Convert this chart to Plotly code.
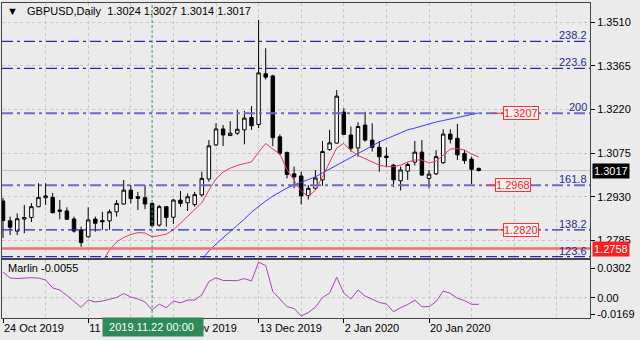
import pandas as pd
import plotly.graph_objects as go

# ---------------- data ----------------
days = pd.bdate_range("2019-10-24", "2020-01-29")
days = [d for d in days if d.strftime("%m-%d") not in ("12-25", "01-01")]
dates = [d.strftime("%Y-%m-%d") for d in days]
bar = list(range(len(dates)))

open_ = [1.2916, 1.2850, 1.2816, 1.2856, 1.2861, 1.2897, 1.2927, 1.2928, 1.2886, 1.2883,
         1.2856, 1.2820, 1.2797, 1.2856, 1.2851, 1.2850, 1.2880, 1.2906, 1.2952, 1.2930,
         1.2927, 1.2908, 1.2836, 1.2897, 1.2862, 1.2919, 1.2910, 1.2904, 1.2936, 1.2989,
         1.3102, 1.3155, 1.3133, 1.3141, 1.3152, 1.3193, 1.3170, 1.3338, 1.3331, 1.3129,
         1.3077, 1.3006, 1.2999, 1.2934, 1.2958, 1.2986, 1.3087, 1.3108, 1.3211, 1.3135,
         1.3092, 1.3168, 1.3118, 1.3094, 1.3065, 1.3035, 1.2983, 1.3015, 1.3045, 1.3078,
         1.2991, 1.3006, 1.3043, 1.3138, 1.3124, 1.3074, 1.3055, 1.3024]
high = [1.2926, 1.2864, 1.2875, 1.2903, 1.2909, 1.2975, 1.2975, 1.2943, 1.2919, 1.2895,
        1.2864, 1.2831, 1.2895, 1.2864, 1.2880, 1.2888, 1.2919, 1.2986, 1.2969, 1.2946,
        1.2969, 1.2910, 1.2903, 1.2899, 1.2922, 1.2949, 1.2941, 1.2946, 1.3013, 1.3118,
        1.3174, 1.3168, 1.3181, 1.3218, 1.3215, 1.3231, 1.3517, 1.3423, 1.3335, 1.3137,
        1.3080, 1.3030, 1.3013, 1.2969, 1.3019, 1.3115, 1.3152, 1.3284, 1.3224, 1.3163,
        1.3177, 1.3212, 1.3174, 1.3115, 1.3094, 1.3039, 1.3030, 1.3044, 1.3115, 1.3118,
        1.3019, 1.3085, 1.3154, 1.3154, 1.3172, 1.3085, 1.3063, 1.3027]
low = [1.2793, 1.2803, 1.2803, 1.2809, 1.2846, 1.2895, 1.2903, 1.2875, 1.2855, 1.2853,
       1.2811, 1.2764, 1.2795, 1.2814, 1.2820, 1.2820, 1.2864, 1.2904, 1.2908, 1.2886,
       1.2889, 1.2831, 1.2831, 1.2831, 1.2840, 1.2897, 1.2883, 1.2897, 1.2931, 1.2980,
       1.3098, 1.3098, 1.3132, 1.3135, 1.3104, 1.3152, 1.3158, 1.3319, 1.3098, 1.3069,
       1.2991, 1.2958, 1.2904, 1.2921, 1.2952, 1.2966, 1.3082, 1.3107, 1.3135, 1.3080,
       1.3063, 1.3113, 1.3080, 1.3013, 1.3030, 1.2962, 1.2951, 1.2986, 1.3034, 1.2999,
       1.2958, 1.3002, 1.3039, 1.3107, 1.3052, 1.3039, 1.2972, 1.3014]
close = [1.2851, 1.2829, 1.2857, 1.2861, 1.2897, 1.2928, 1.2933, 1.2877, 1.2882, 1.2855,
         1.2816, 1.2778, 1.2853, 1.2842, 1.2847, 1.2880, 1.2908, 1.2952, 1.2924, 1.2925,
         1.2906, 1.2834, 1.2897, 1.2861, 1.2919, 1.2908, 1.2930, 1.2937, 1.2991, 1.3099,
         1.3155, 1.3135, 1.3141, 1.3154, 1.3191, 1.3166, 1.3341, 1.3327, 1.3126, 1.3074,
         1.3004, 1.2996, 1.2933, 1.2958, 1.2992, 1.3080, 1.3109, 1.3264, 1.3137, 1.3091,
         1.3163, 1.3118, 1.3094, 1.3063, 1.3060, 1.2986, 1.3019, 1.3037, 1.3078, 1.3002,
         1.3005, 1.3063, 1.3138, 1.3121, 1.3069, 1.3050, 1.3021, 1.3017]

# fast (red) moving average, first 14 bars empty
ma_fast = [None] * 14 + [
    1.2715, 1.2753, 1.2780, 1.2795, 1.2805, 1.2811, 1.2810, 1.2797, 1.2801, 1.2806,
    1.2820, 1.2843, 1.2864, 1.2886, 1.2910, 1.2952, 1.2989, 1.3012, 1.3025, 1.3034,
    1.3039, 1.3046, 1.3078, 1.3107, 1.3088, 1.3072, 1.3019, 1.2982, 1.2949, 1.2931,
    1.2952, 1.2996, 1.3045, 1.3092, 1.3107, 1.3083, 1.3067, 1.3057, 1.3045, 1.3035,
    1.3030, 1.3030, 1.3035, 1.3045, 1.3052, 1.3052, 1.3042, 1.3048, 1.3068, 1.3088,
    1.3090, 1.3085, 1.3072, 1.3062]
# slow (blue) moving average, first 28 bars empty
ma_slow = [None] * 28 + [
    1.2722, 1.2750, 1.2773, 1.2793, 1.2815, 1.2836, 1.2856, 1.2879, 1.2899, 1.2916,
    1.2932, 1.2946, 1.2959, 1.2969, 1.2979, 1.2987, 1.2996, 1.3009, 1.3022, 1.3035,
    1.3049, 1.3062, 1.3075, 1.3088, 1.3100, 1.3112, 1.3122, 1.3132, 1.3142, 1.3152,
    1.3158, 1.3165, 1.3171, 1.3178, 1.3183, 1.3188, 1.3193, 1.3198, 1.3205, 1.3208]

marlin = [0.0264, 0.0202, 0.0197, 0.0202, 0.0205, 0.0202, 0.0182, 0.0100, 0.0079, 0.0023,
          -0.0034, -0.0099, -0.0024, -0.0044, -0.0034, -0.0013, 0.0002, 0.0043, 0.0007, -0.0013,
          -0.0044, -0.0126, -0.0065, -0.0103, -0.0034, -0.0054, -0.0024, -0.0024, 0.0028, 0.0166,
          0.0205, 0.0177, 0.0175, 0.0175, 0.0197, 0.0172, 0.0364, 0.0331, 0.0064, -0.0013,
          -0.0092, -0.0111, -0.0188, -0.0152, -0.0096, 0.0002, 0.0048, 0.0210, 0.0048, -0.0013,
          0.0079, 0.0017, -0.0013, -0.0049, -0.0065, -0.0144, -0.0103, -0.0070, -0.0024, -0.0092,
          -0.0092, -0.0041, 0.0069, 0.0045, -0.0006, -0.0029, -0.0068, -0.0068]

fib_names = ["238.2", "223.6", "200", "161.8", "138.2", "123.6"]
fib_levels = [1.3446, 1.3356, 1.3207, 1.2968, 1.2820, 1.2731]
fib_strong = [False, False, True, True, False, False]
target_levels = [1.3207, 1.2968, 1.2820]
support_level = 1.2758
last_price = close[-1]
marlin_last = -0.0055

price_ticks = [1.3510, 1.3365, 1.3220, 1.3075, 1.2930, 1.2785]
marlin_ticks = [0.0302, 0.0, -0.0169]
marlin_ticktext = ["0.0302", "0.00", "-0.0169"]
label_every = 12
grid_every = 6
marked_bar = 21  # 2019.11.22

# ---------------- layout helpers ----------------
W, H = 640, 340
L, R, T, B = 2, 590, 3, 318          # plot box in pixels
MAIN_BOTTOM, SUB_TOP = 258, 260
BG = "#ebebeb"
FONT = "Liberation Sans"
NB = "\u00a0"


def px_x(p):
    return (p - L) / (R - L)


def px_y(p):
    return (B - p) / (B - T)


x_per_px = 7.1
x_lo = -(3 - L) / x_per_px
x_hi = x_lo + (R - L) / x_per_px

fig = go.Figure()

fig.add_trace(go.Candlestick(
    x=bar, open=open_, high=high, low=low, close=close,
    increasing=dict(line=dict(color="#000000", width=1), fillcolor="#ffffff"),
    decreasing=dict(line=dict(color="#000000", width=1), fillcolor="#000000"),
    whiskerwidth=0, xaxis="x", yaxis="y", hoverinfo="skip"))
fig.add_trace(go.Scatter(x=bar, y=ma_slow, mode="lines",
                         line=dict(color="#3a3aff", width=1), xaxis="x", yaxis="y"))
fig.add_trace(go.Scatter(x=bar, y=ma_fast, mode="lines",
                         line=dict(color="#e8385a", width=1), xaxis="x", yaxis="y"))
fig.add_trace(go.Scatter(x=bar, y=marlin, mode="lines",
                         line=dict(color="#b03cc0", width=1), xaxis="x2", yaxis="y2"))

shapes = []
shapes.append(dict(type="line", xref="paper", yref="y", x0=0, x1=1, y0=last_price, y1=last_price,
                   line=dict(color="#c4c4c4", width=1), layer="below"))
shapes.append(dict(type="line", xref="paper", yref="y", x0=0, x1=1, y0=support_level, y1=support_level,
                   line=dict(color="#f07070", width=2.5)))
for lev, strong in zip(fib_levels, fib_strong):
    shapes.append(dict(type="line", xref="paper", yref="y", x0=0, x1=1, y0=lev, y1=lev,
                       line=dict(color="#6c6cc6" if strong else "#2a2aa8",
                                 width=2 if strong else 1.2,
                                 dash="11px,4px,3px,4px")))
shapes.append(dict(type="line", xref="paper", yref="y2", x0=0, x1=1, y0=0, y1=0,
                   line=dict(color="#c4c4c4", width=1, dash="3px,3px"), layer="below"))
shapes.append(dict(type="line", xref="x", yref="paper", x0=marked_bar, x1=marked_bar, y0=0, y1=1,
                   line=dict(color="#3a9a5a", width=1, dash="3px,2px")))
lead = [(69.0, 70.4), (68.0, 69.4), (69.0, 70.4)]
for lev, (a, b) in zip(target_levels, lead):
    shapes.append(dict(type="line", xref="x", yref="y", x0=a, x1=b, y0=lev, y1=lev,
                       line=dict(color="#ff3030", width=1)))

ann = []
header = ("▼" + NB * 3 + "GBPUSD,Daily" + NB * 2 +
          NB.join(f"{v:.4f}" for v in (open_[-1], high[-1], low[-1], close[-1])))
ann.append(dict(text=header, xref="paper", yref="paper", x=px_x(5), y=px_y(11),
                xanchor="left", yanchor="middle", showarrow=False,
                font=dict(family=FONT, size=11, color="#000")))
ann.append(dict(text=f"Marlin {marlin_last:.4f}", xref="paper", yref="paper", x=px_x(6), y=px_y(268),
                xanchor="left", yanchor="middle", showarrow=False,
                font=dict(family=FONT, size=11, color="#000")))
for name, lev in zip(fib_names, fib_levels):
    ann.append(dict(text=name, xref="paper", yref="y", x=px_x(589), y=lev, xanchor="right",
                    yanchor="middle", yshift=6, showarrow=False,
                    font=dict(family=FONT, size=11, color="#2a2a90")))
tx = [72.9, 71.9, 72.9]
for lev, xx in zip(target_levels, tx):
    ann.append(dict(text=f"{lev:.4f}", xref="x", yref="y", x=xx, y=lev, xanchor="center",
                    yanchor="middle", showarrow=False, bgcolor="#f2f2f2", bordercolor="#ff3030",
                    borderwidth=1, borderpad=0, font=dict(family=FONT, size=11, color="#ff2020")))
ann.append(dict(text=f"{last_price:.4f}", xref="paper", yref="y", x=px_x(592), y=last_price,
                xanchor="left", yanchor="middle", showarrow=False, bgcolor="#000000",
                borderpad=1, font=dict(family=FONT, size=11, color="#ffffff")))
ann.append(dict(text=f"{support_level:.4f}", xref="paper", yref="y", x=px_x(592), y=support_level,
                xanchor="left", yanchor="middle", showarrow=False, bgcolor="#ff1e1e",
                borderpad=1, font=dict(family=FONT, size=11, color="#ffffff")))
ann.append(dict(text=NB + days[marked_bar].strftime("%Y.%m.%d") + " 00:00" + NB * 2, xref="x", yref="paper",
                x=marked_bar, y=px_y(327.5), xanchor="center", yanchor="middle", xshift=1,
                showarrow=False, bgcolor="#2e8b57", borderpad=3,
                font=dict(family=FONT, size=11, color="#ffffff")))

major = list(range(0, len(bar), label_every))
minor = [v for v in range(grid_every, 84, grid_every) if v % label_every]
major_all = list(range(0, 84, label_every))
ticktext = [days[i].strftime("%-d %b %Y") for i in major]

grid = dict(showgrid=True, gridcolor="#c6c6c6", griddash="3px,3px", gridwidth=1)
frame = dict(showline=True, mirror=True, linecolor="#444444", linewidth=1, zeroline=False)

fig.update_layout(
    width=W, height=H, margin=dict(l=L, r=W - R, t=T, b=H - B),
    paper_bgcolor=BG, plot_bgcolor=BG, showlegend=False,
    font=dict(family=FONT, size=11, color="#000"),
    shapes=shapes, annotations=ann,
    xaxis=dict(domain=[0, 1], anchor="y", range=[x_lo, x_hi], rangeslider=dict(visible=False),
               tickmode="array", tickvals=major_all, showticklabels=False, ticks="",
               minor=dict(tickmode="array", tickvals=minor, showgrid=True, gridcolor="#c6c6c6",
                          griddash="3px,3px", ticks=""), **grid, **frame),
    xaxis2=dict(domain=[0, 1], anchor="y2", matches="x", range=[x_lo, x_hi],
                tickmode="array", tickvals=major, ticktext=ticktext,
                ticklabelposition="outside right", ticks="outside", ticklen=4, tickcolor="#000",
                minor=dict(tickmode="array", tickvals=minor, showgrid=True, gridcolor="#c6c6c6",
                           griddash="3px,3px", ticks=""),
                tickfont=dict(family=FONT, size=11), **grid, **frame),
    yaxis=dict(domain=[px_y(MAIN_BOTTOM), 1], anchor="x", side="right",
               range=[1.3510 - (MAIN_BOTTOM - 22) / 3013, 1.3510 + (22 - T) / 3013],
               tickmode="array", tickvals=price_ticks, ticktext=[f"{v:.4f}" for v in price_ticks],
               ticks="outside", ticklen=4, tickcolor="#000", **grid, **frame),
    yaxis2=dict(domain=[0, px_y(SUB_TOP)], anchor="x2", side="right",
                range=[-(B - 297.7) / 973.5, (297.7 - SUB_TOP) / 973.5],
                tickmode="array", tickvals=marlin_ticks, ticktext=marlin_ticktext,
                ticks="outside", ticklen=4, tickcolor="#000", showgrid=False, **frame),
)

fig.write_html("out.html")
